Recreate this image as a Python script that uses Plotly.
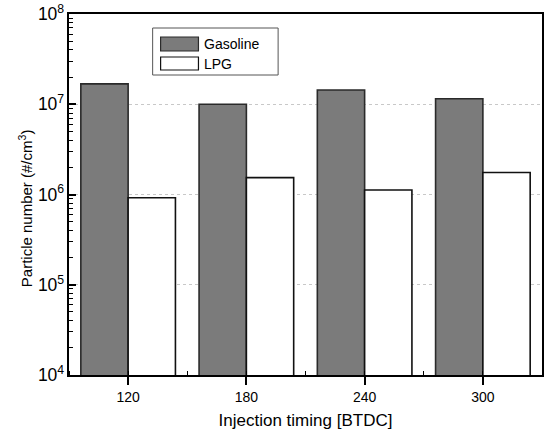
import plotly.graph_objects as go

# Particle number by injection timing
timings = [120, 180, 240, 300]
gasoline = [1.68e7, 1.0e7, 1.44e7, 1.15e7]
lpg = [9.2e5, 1.54e6, 1.12e6, 1.75e6]
series_names = ["Gasoline", "LPG"]
y_title = "Particle number (#/cm<sup>3</sup>)"

FONT = "Arial, 'Liberation Sans', sans-serif"
GRAY = "#7b7b7b"

fig = go.Figure()
fig.add_trace(go.Bar(
    x=timings, y=gasoline, name=series_names[0],
    width=24, offset=-24,
    marker=dict(color=GRAY, line=dict(color="#2a2a2a", width=1.6)),
))
fig.add_trace(go.Bar(
    x=timings, y=lpg, name=series_names[1],
    width=24, offset=0,
    marker=dict(color="white", line=dict(color="#111111", width=1.6)),
))

# Legend drawn as framed swatches
shapes = [
    dict(type="rect", xref="paper", yref="paper",
         x0=(153 - 69) / 475, x1=(279 - 69) / 475,
         y0=(375 - 75) / 361, y1=(375 - 28) / 361,
         line=dict(color="#555555", width=1), fillcolor="white", layer="above"),
]
swatches = [(37, 51, GRAY, "#2a2a2a"), (57, 70, "white", "#111111")]
annotations = []
for (ya, yb, fill, edge), name in zip(swatches, series_names):
    shapes.append(dict(type="rect", xref="paper", yref="paper",
                       x0=(161 - 69) / 475, x1=(199 - 69) / 475,
                       y0=(375 - yb) / 361, y1=(375 - ya) / 361,
                       line=dict(color=edge, width=1.2), fillcolor=fill, layer="above"))
    annotations.append(dict(xref="paper", yref="paper",
                            x=(203 - 69) / 475, y=(375 - (ya + yb) / 2) / 361,
                            text=name, showarrow=False, xanchor="left", yanchor="middle",
                            font=dict(family=FONT, size=14, color="black")))

# Vertical axis title
annotations.append(dict(xref="paper", yref="paper",
                        x=(25 - 69) / 475, y=(375 - 208) / 361,
                        text=y_title, textangle=-90, showarrow=False,
                        xanchor="center", yanchor="middle",
                        font=dict(family=FONT, size=15, color="black")))

fig.update_layout(
    width=546, height=432,
    margin=dict(l=69, r=2, t=14, b=57),
    paper_bgcolor="white", plot_bgcolor="white",
    showlegend=False,
    font=dict(family=FONT, size=14, color="black"),
    shapes=shapes, annotations=annotations,
)
fig.update_xaxes(
    range=[90, 330], tickmode="linear", tick0=120, dtick=60,
    ticks="outside", ticklen=8, tickwidth=1.5, tickcolor="black",
    showline=True, linecolor="black", linewidth=2, mirror=True,
    showgrid=False, zeroline=False,
    tickfont=dict(family=FONT, size=14),
    title=dict(text="Injection timing [BTDC]", font=dict(family=FONT, size=17), standoff=10),
    minor=dict(tickmode="linear", tick0=90, dtick=30, ticks="inside", ticklen=4,
               tickwidth=1.2, tickcolor="black", showgrid=False),
)
fig.update_yaxes(
    type="log", range=[4, 8], tickmode="linear", tick0=0, dtick=1, exponentformat="power",
    ticks="inside", ticklen=7, tickwidth=1.5, tickcolor="black",
    showline=True, linecolor="black", linewidth=2, mirror=True,
    showgrid=True, gridcolor="#c8c8c8", gridwidth=1, griddash="dot",
    zeroline=False,
    tickfont=dict(family=FONT, size=14),
    minor=dict(dtick="D1", ticks="inside", ticklen=4, tickwidth=1.2,
               tickcolor="black", showgrid=False),
)

fig.write_html("out.html")
